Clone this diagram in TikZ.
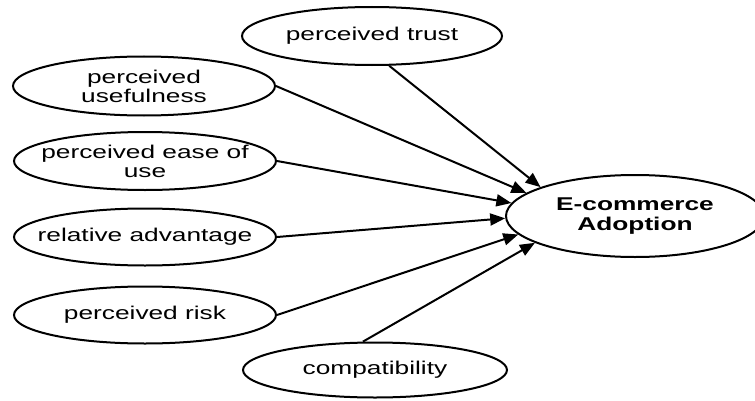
\documentclass[tikz,border=0pt]{standalone}
\usepackage{fontspec}
\newfontfamily\diagfont[FakeStretch=1.42]{Liberation Sans}
\usetikzlibrary{shapes.geometric}
\usetikzlibrary{arrows.meta}

\begin{document}
\begin{tikzpicture}[
  x=1pt, y=1pt,
  factor/.style={
    draw,
    ellipse,
    line width=2pt,
    minimum width=262pt,
    minimum height=58pt,
    inner xsep=-40pt,
    inner ysep=0pt,
    align=center,
    font=\diagfont\fontsize{18.5pt}{19pt}\selectfont
  },
  outcome/.style={
    factor,
    minimum width=258pt,
    minimum height=82pt,
    font=\diagfont\fontsize{18.5pt}{19.5pt}\selectfont\bfseries
  },
  link/.style={
    line width=2pt,
    -{Triangle[length=15pt,width=12pt]}
  }
]
\useasboundingbox (0,0) rectangle (755,400);

% factors
\node[factor, minimum width=260pt] (trust) at (372,364) {perceived trust};
\node[factor, minimum height=59pt] (useful) at (144,314) {perceived\\usefulness};
\node[factor] (ease) at (145,239) {perceived ease of\\use};
\node[factor, minimum height=57pt] (relative) at (145,163) {relative advantage};
\node[factor, minimum height=57pt] (risk) at (145,85) {perceived risk};
\node[factor, minimum width=264pt, minimum height=55pt] (compat) at (375,30) {compatibility};

% outcome
\node[outcome] (adopt) at (635,184) {E-commerce\\Adoption};

% links
\draw[link] (trust.-60) -- (adopt.163);
\draw[link] (useful.east) -- (adopt.168);
\draw[link] (ease.east) -- (adopt.174);
\draw[link] (relative.east) -- (adopt.181);
\draw[link] (risk.east) -- (adopt.189);
\draw[link] (compat.113) -- (adopt.195);
\end{tikzpicture}
\end{document}
